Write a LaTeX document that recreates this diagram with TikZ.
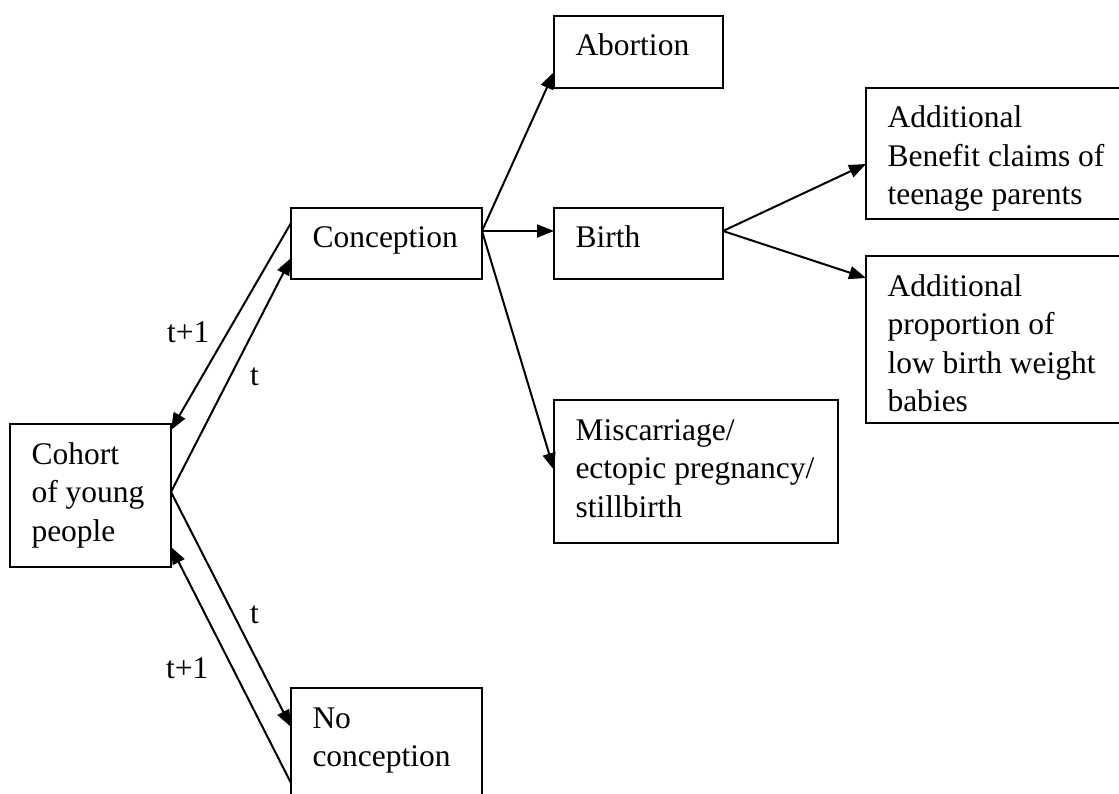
\documentclass[tikz,border=0pt]{standalone}
\usepackage{fontspec}
\setmainfont{Liberation Serif}
\usetikzlibrary{arrows.meta,calc}
\newcommand\bxtext[3]{\parbox[c][#2][t]{#1}{\raggedright\leftskip=21.5pt\rule{0pt}{40pt}#3}}
\begin{document}
\begin{tikzpicture}[x=1pt,y=-1pt,
  every node/.style={font=\fontsize{31.5pt}{38.5pt}\selectfont},
  box/.style={draw, line width=2pt, inner sep=0pt, outer sep=0pt, anchor=north west},
  lbl/.style={inner sep=0pt, anchor=base west},
  arr/.style={line width=2pt, -{Triangle[length=17pt,width=13pt]}}]
\clip (0,0) rectangle (1119,794);
\fill[white] (0,0) rectangle (1119,794);
\node[box] (cohort) at (10,424) {\bxtext{161pt}{143pt}{Cohort\\of young\\people}};
\node[box] (conc) at (291,208) {\bxtext{191pt}{71pt}{Conception}};
\node[box] (abort) at (554,16) {\bxtext{169pt}{72pt}{Abortion}};
\node[box] (birth) at (554,208) {\bxtext{169pt}{71pt}{Birth}};
\node[box] (benef) at (866,88) {\bxtext{270pt}{131pt}{Additional\\Benefit claims of\\teenage parents}};
\node[box] (lowbw) at (866,256) {\bxtext{270pt}{167pt}{Additional\\proportion of\\low birth weight\\babies}};
\node[box] (misc) at (554,400) {\bxtext{284pt}{143pt}{Miscarriage/\\ectopic pregnancy/\\stillbirth}};
\node[box] (nocon) at (291,688) {\bxtext{191pt}{130pt}{No\\conception}};
\node[lbl] (l1) at (167,342) {t+1};
\node[lbl] (l2) at (250,385) {t};
\node[lbl] (l3) at (250,623) {t};
\node[lbl] (l4) at (166,678) {t+1};
\draw[arr] ($(cohort.north east)+(0,68)$) -- ($(conc.north west)+(0,50)$);
\draw[arr] ($(conc.north west)+(0,15)$) -- ($(cohort.north east)+(0,6)$);
\draw[arr] ($(cohort.north east)+(0,68)$) -- ($(nocon.north west)+(0,39)$);
\draw[arr] ($(nocon.north west)+(0,95)$) -- ($(cohort.north east)+(0,123)$);
\draw[arr] ($(conc.north east)+(0,23)$) -- ($(abort.north west)+(0,56)$);
\draw[arr] ($(conc.north east)+(0,23)$) -- ($(birth.north west)+(0,23)$);
\draw[arr] ($(conc.north east)+(0,23)$) -- ($(misc.north west)+(0,70)$);
\draw[arr] ($(birth.north east)+(0,23)$) -- ($(benef.north west)+(0,76)$);
\draw[arr] ($(birth.north east)+(0,23)$) -- ($(lowbw.north west)+(0,22)$);
\end{tikzpicture}
\end{document}
